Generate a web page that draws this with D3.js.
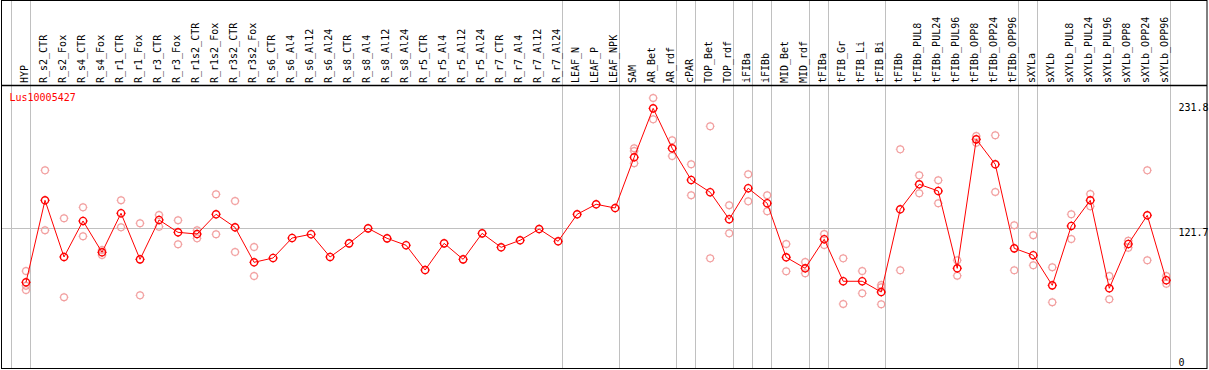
<!DOCTYPE html>
<html>
<head>
<meta charset="utf-8">
<script src="https://cdn.jsdelivr.net/npm/d3@7"></script>
<style>
  body { margin: 0; background: #fff; }
  svg { display: block; }
  text { font-family: "DejaVu Sans Mono", monospace; font-size: 10px; }
</style>
</head>
<body>
<div id="chart"><svg width="1209" height="370"></svg></div>
<script>
var geneName = "Lus10005427";

var categories = ["HYP","R_s2_CTR","R_s2_Fox","R_s4_CTR","R_s4_Fox","R_r1_CTR","R_r1_Fox","R_r3_CTR","R_r3_Fox",
  "R_r1s2_CTR","R_r1s2_Fox","R_r3s2_CTR","R_r3s2_Fox","R_s6_CTR","R_s6_Al4","R_s6_Al12","R_s6_Al24",
  "R_s8_CTR","R_s8_Al4","R_s8_Al12","R_s8_Al24","R_r5_CTR","R_r5_Al4","R_r5_Al12","R_r5_Al24",
  "R_r7_CTR","R_r7_Al4","R_r7_Al12","R_r7_Al24","LEAF_N","LEAF_P","LEAF_NPK","SAM","AR_Bet","AR_rdf",
  "cPAR","TOP_Bet","TOP_rdf","iFIBa","iFIBb","MID_Bet","MID_rdf","tFIBa","tFIB_Gr","tFIB_Li","tFIB_Bi",
  "tFIBb","tFIBb_PUL8","tFIBb_PUL24","tFIBb_PUL96","tFIBb_OPP8","tFIBb_OPP24","tFIBb_OPP96",
  "sXYLa","sXYLb","sXYLb_PUL8","sXYLb_PUL24","sXYLb_PUL96","sXYLb_OPP8","sXYLb_OPP24","sXYLb_OPP96"];

// first category of each tissue group (gray separators)
var groupStarts = ["HYP","R_s2_CTR","LEAF_N","SAM","cPAR","TOP_Bet","iFIBa","iFIBb","MID_Bet",
  "tFIBa","tFIB_Gr","tFIBb","sXYLa","sXYLb"];

var means = [73.9,146.1,96.2,127.9,100.3,134.7,94.1,128.8,117.9,116.4,133.8,122.3,91.5,
  95.3,112.9,116.2,96.2,108.2,121.4,112.6,106.5,84.7,108.2,94.1,117.0,104.7,110.9,120.8,110.0,
  133.8,142.6,139.3,184.0,227.1,191.9,164.0,153.2,129.4,156.7,143.5,95.9,86.2,111.8,74.8,74.8,65.3,
  138.2,160.2,154.3,86.2,199.8,177.8,103.8,97.7,71.2,123.5,146.1,68.6,107.6,132.9,75.7];

var replicates = [
  [83.8,70.9,67.1],[172.5,119.7],[130.3,60.7],[139.9,114.4],[102.3,97.9],[146.1,122.3],[125.9,62.4],
  [133.2,122.9],[128.5,107.4],[119.7,112.6],[151.4,116.2],[145.5,100.6],[105.0,79.4],
  [],[],[],[],[],[],[],[],[],[],[],[],[],[],[],[],[],[],[],
  [191.9,189.5,178.7],[236.2,217.4],[199.0,185.1],[177.8,150.5],[211.3,95.0],[141.7,117.0],
  [169.0,145.2],[150.5,136.4],[107.6,83.6],[91.8,81.8],[116.4,106.7],[95.0,54.8],[83.8,64.2],
  [71.5,69.5,54.5],[191.0,84.5],[168.1,152.3],[163.7,143.5],[93.3,79.7],[202.7,196.8],[203.4,153.4],
  [124.1,84.5],[115.3,88.9],[87.1,56.3],[133.8,112.0],[151.7,140.8],[79.4,58.9],[110.5,104.4],
  [172.5,93.3],[79.4,72.7]];

var yTickValues = [0, 121.7, 231.8];
var yTickLabels = ["0", "121.7", "231.8"];

var svg = d3.select("#chart").select("svg");
var W = 1209, H = 370, headerY = 85;

var x = d3.scaleBand()
    .domain(categories)
    .range([11, 11 + 19.005 * categories.length]);

var y = d3.scaleLinear()
    .domain([0, 231.8])
    .range([366.2, 103]);

function px(c) { return x(c) + 15; }
function crisp(v) { return Math.round(v) + 0.5; }

// gray separators
var seps = groupStarts.map(function(c) { return x(c); });
seps.push(x.range()[1]);

svg.append("g")
    .selectAll("line")
    .data(seps)
    .enter().append("line")
      .attr("x1", function(d) { return crisp(d); })
      .attr("x2", function(d) { return crisp(d); })
      .attr("y1", 0)
      .attr("y2", H - 1)
      .attr("stroke", "#c0c0c0")
      .attr("stroke-width", 1);

svg.append("line")
    .attr("x1", 1).attr("x2", W - 2)
    .attr("y1", crisp(y(121.7))).attr("y2", crisp(y(121.7)))
    .attr("stroke", "#c0c0c0")
    .attr("stroke-width", 1);

// frame + header rule
svg.append("rect")
    .attr("x", 1.5).attr("y", 0.5)
    .attr("width", W - 3.5).attr("height", H - 2)
    .attr("fill", "none")
    .attr("stroke", "#000");

svg.append("line")
    .attr("x1", 1).attr("x2", W - 2)
    .attr("y1", headerY + 0.5).attr("y2", headerY + 0.5)
    .attr("stroke", "#000")
    .attr("stroke-width", 1.3);

// rotated column labels
svg.append("g")
    .selectAll("text")
    .data(categories)
    .enter().append("text")
      .attr("transform", function(d) { return "translate(" + (px(d) + 2) + "," + (headerY - 2) + ") rotate(-90)"; })
      .attr("text-anchor", "start")
      .attr("fill", "#000")
      .text(function(d) { return d; });

// right side value labels
svg.append("g")
    .selectAll("text")
    .data(yTickValues)
    .enter().append("text")
      .attr("x", 1178.5)
      .attr("y", function(d) { return Math.min(y(d) + 8, H - 4); })
      .attr("fill", "#000")
      .text(function(d, i) { return yTickLabels[i]; });

svg.append("text")
    .attr("x", 9.5)
    .attr("y", 101)
    .attr("fill", "#ff0000")
    .text(geneName);

function marker(sel, r, color, sw) {
  sel.append("circle")
      .attr("r", r)
      .attr("fill", "none")
      .attr("stroke", color)
      .attr("stroke-width", sw);
  sel.append("path")
      .attr("d", "M0," + (-r - 1.1) + "V" + (-r) + "M0," + r + "V" + (r + 1.1) +
                 "M" + (-r - 1.1) + ",0H" + (-r) + "M" + r + ",0H" + (r + 1.1))
      .attr("stroke", color)
      .attr("stroke-width", 0.9);
}

// replicate points
var reps = [];
categories.forEach(function(c, i) {
  replicates[i].forEach(function(v) { reps.push({c: c, v: v}); });
});

svg.append("g")
    .selectAll("g")
    .data(reps)
    .enter().append("g")
      .attr("transform", function(d) { return "translate(" + px(d.c) + "," + y(d.v) + ")"; })
      .call(marker, 3.4, "#f2a0a0", 1.2);

// mean line
var line = d3.line()
    .x(function(d, i) { return px(categories[i]); })
    .y(function(d) { return y(d); });

svg.append("path")
    .datum(means)
    .attr("d", line)
    .attr("fill", "none")
    .attr("stroke", "#ff0000")
    .attr("stroke-width", 1);

svg.append("g")
    .selectAll("g")
    .data(means)
    .enter().append("g")
      .attr("transform", function(d, i) { return "translate(" + px(categories[i]) + "," + y(d) + ")"; })
      .call(marker, 3.6, "#ff0000", 1.4);
</script>
</body>
</html>
